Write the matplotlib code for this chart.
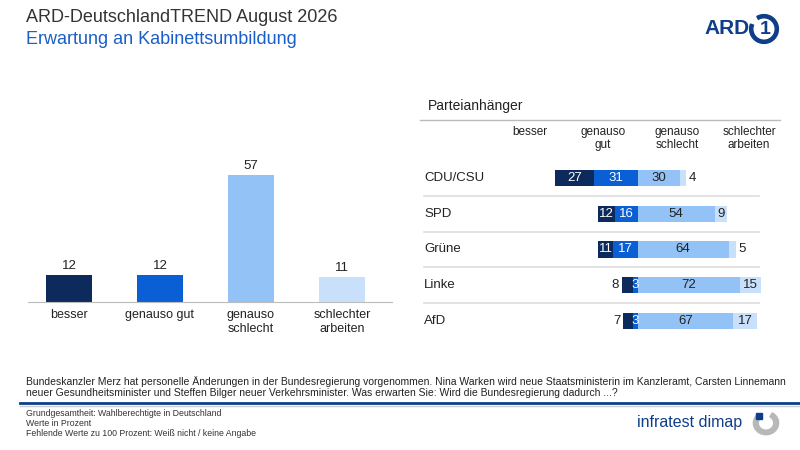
import matplotlib.pyplot as plt
from matplotlib.patches import Wedge, Rectangle

plt.rcParams['font.family'] = ['Liberation Sans', 'DejaVu Sans']

# data
cats = ['besser', 'genauso gut', 'genauso\nschlecht', 'schlechter\narbeiten']
total = [12, 12, 57, 11]
parties = ['CDU/CSU', 'SPD', 'Grüne', 'Linke', 'AfD']
besser = [27, 12, 11, 8, 7]
gut = [31, 16, 17, 3, 3]
schlecht = [30, 54, 64, 72, 67]
schlechter = [4, 9, 5, 15, 17]
colors = ['#0c2a5c', '#0b5fd4', '#93c2f6', '#c9e0fb']

W, H = 800, 450
fig = plt.figure(figsize=(8, 4.5), dpi=100)

def box(x0, y0, x1, y1):
    return [x0 / W, 1 - y1 / H, (x1 - x0) / W, (y1 - y0) / H]

fig.text(26 / W, 1 - 17 / H, 'ARD-DeutschlandTREND August 2026', fontsize=13, color='#333333', va='center')
fig.text(26 / W, 1 - 39 / H, 'Erwartung an Kabinettsumbildung', fontsize=13, color='#1a5fc8', va='center')

# logo
fig.text(750 / W, 1 - 29 / H, 'ARD', fontsize=15, fontweight='bold', color='#0e3d8a', va='center', ha='right')
lg = fig.add_axes(box(748, 13, 780, 45))
lg.set_xlim(-1, 1); lg.set_ylim(-1, 1); lg.axis('off')
lg.add_patch(Wedge((0, 0), 0.9, -200, 120, width=0.2, color='#0e3d8a'))
lg.text(0.05, 0, '1', fontsize=14, fontweight='bold', color='#0e3d8a', ha='center', va='center')

# left chart
ax = fig.add_axes(box(28, 146, 392, 302))
x = range(len(cats))
ax.bar(x, total, width=0.5, color=colors)
for i, v in enumerate(total):
    ax.text(i, v + 1.5, str(v), ha='center', va='bottom', fontsize=9.5, color='#222222')
ax.set_xticks(list(x))
ax.set_xticklabels(cats, fontsize=9, color='#222222')
ax.set_ylim(0, 70)
ax.set_xlim(-0.45, 3.55)
ax.set_yticks([])
for s in ['top', 'right', 'left']:
    ax.spines[s].set_visible(False)
ax.spines['bottom'].set_color('#bbbbbb')
ax.tick_params(axis='x', length=0, pad=5)

# right chart
fig.text(428 / W, 1 - 106 / H, 'Parteianhänger', fontsize=10, color='#222222', va='center')
fig.add_artist(plt.Line2D([420 / W, 780 / W], [1 - 120 / H] * 2, color='#bbbbbb', lw=1))
heads = [(530, 'besser'), (603, 'genauso\ngut'), (677, 'genauso\nschlecht'), (749, 'schlechter\narbeiten')]
for hx, t in heads:
    fig.text(hx / W, 1 - 126 / H, t, fontsize=8.5, color='#222222', ha='center', va='top', linespacing=1.15)

ar = fig.add_axes(box(410, 120, 770, 340))
ar.set_xlim(-160, 93)
ar.set_ylim(4.53, -1.62)
ar.axis('off')
for i, p in enumerate(parties):
    b, g, s, w = besser[i], gut[i], schlecht[i], schlechter[i]
    ar.barh(i, -g, height=0.45, color=colors[1])
    ar.barh(i, -b, left=-g, height=0.45, color=colors[0])
    ar.barh(i, s, height=0.45, color=colors[2])
    ar.barh(i, w, left=s, height=0.45, color=colors[3])
    ar.text(-150, i, p, fontsize=9.5, va='center', color='#222222')
    ar.text(-g / 2, i, str(g), ha='center', va='center', fontsize=9.5, color='white')
    if b >= 10:
        ar.text(-g - b / 2, i, str(b), ha='center', va='center', fontsize=9.5, color='white')
    else:
        ar.text(-g - b - 2, i, str(b), ha='right', va='center', fontsize=9.5, color='#222222')
    ar.text(s / 2, i, str(s), ha='center', va='center', fontsize=9.5, color='#222222')
    if w >= 6:
        ar.text(s + w / 2, i, str(w), ha='center', va='center', fontsize=9.5, color='#222222')
    else:
        ar.text(s + w + 2, i, str(w), ha='left', va='center', fontsize=9.5, color='#222222')
    if i < len(parties) - 1:
        ar.axhline(i + 0.5, xmin=0.04, xmax=0.97, color='#dddddd', lw=1.2)

# question and footer
fig.text(26 / W, 1 - 376 / H,
         'Bundeskanzler Merz hat personelle Änderungen in der Bundesregierung vorgenommen. Nina Warken wird neue Staatsministerin im Kanzleramt, Carsten Linnemann\n'
         'neuer Gesundheitsminister und Steffen Bilger neuer Verkehrsminister. Was erwarten Sie: Wird die Bundesregierung dadurch ...?',
         fontsize=7.5, color='#222222', va='top', linespacing=1.2)
fig.add_artist(plt.Line2D([20 / W, 800 / W], [1 - 403 / H] * 2, color='#0e3d8a', lw=2))
fig.add_artist(plt.Line2D([20 / W, 800 / W], [1 - 406 / H] * 2, color='#cccccc', lw=1))
fig.text(26 / W, 1 - 409 / H, 'Grundgesamtheit: Wahlberechtigte in Deutschland\nWerte in Prozent\nFehlende Werte zu 100 Prozent: Weiß nicht / keine Angabe',
         fontsize=6.3, color='#333333', va='top', linespacing=1.15)
fig.text(742 / W, 1 - 422 / H, 'infratest dimap', fontsize=11.5, color='#0e3d8a', va='center', ha='right')
lg2 = fig.add_axes(box(752, 410, 780, 436))
lg2.set_xlim(-1, 1); lg2.set_ylim(-1, 1); lg2.axis('off')
lg2.add_patch(Wedge((0, 0), 0.9, -230, 60, width=0.35, color='#b8b8b8'))
lg2.add_patch(Rectangle((-0.75, 0.3), 0.45, 0.5, color='#0e3d8a'))

fig.savefig('out.png', dpi=100)
